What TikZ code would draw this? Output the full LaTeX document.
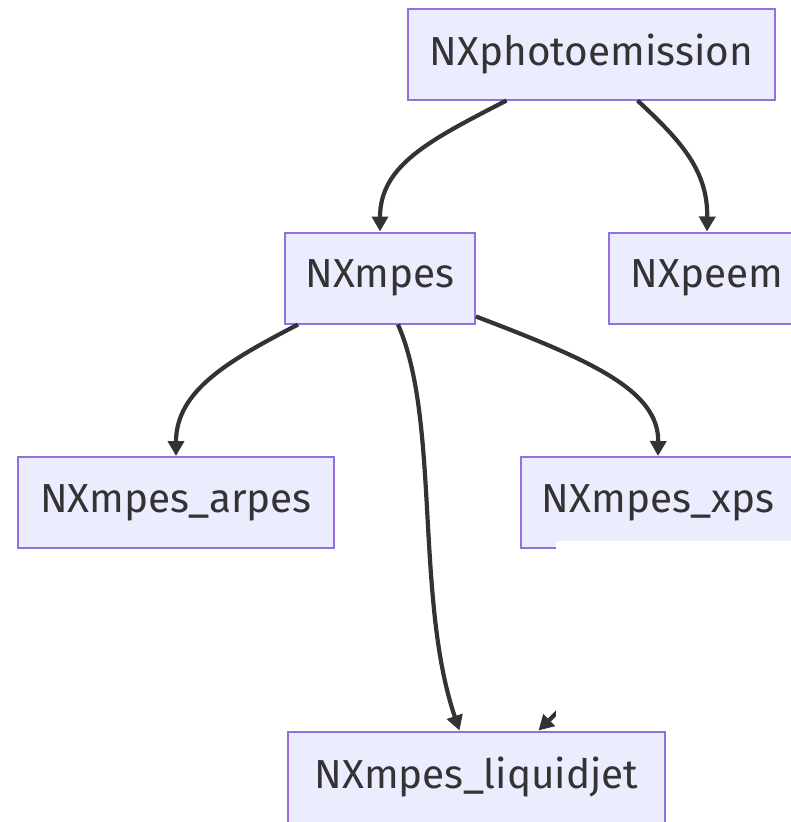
\documentclass[tikz,border=0pt]{standalone}
\usepackage{fontspec}
\setmainfont{Fira Sans}
\usetikzlibrary{arrows.meta}
\definecolor{boxfill}{HTML}{ECECFF}
\definecolor{boxline}{HTML}{9370DB}
\definecolor{ink}{HTML}{333333}
\tikzset{
  classbox/.style={draw=boxline, fill=boxfill, line width=2pt, inner sep=0pt,
    minimum height=91pt, text=ink, font=\fontsize{40.5}{44}\selectfont},
  link/.style={draw=ink, line width=4.2pt, -{Triangle[length=15pt,width=16pt]}},
}
\begin{document}
\begin{tikzpicture}[x=1pt,y=-1pt]
\useasboundingbox (0,0) rectangle (791,822);
\begin{scope}
\clip (0,0) rectangle (791,822);
% class boxes
\node[classbox, minimum width=367pt] (photo) at (591.5,54) {NXphotoemission};
\node[classbox, minimum width=190pt] (mpes) at (380,278) {NXmpes};
\node[classbox, minimum width=196pt] (peem) at (707,278) {NXpeem};
\node[classbox, minimum width=316pt] (arpes) at (176,502.5) {NXmpes\_arpes};
\node[classbox, minimum width=274pt] (xps) at (658,502.5) {NXmpes\_xps};
\node[classbox, minimum width=377pt] (jet) at (476.5,777) {NXmpes\_liquidjet};
% inheritance links
\draw[link] ([xshift=-85pt]photo.south) .. controls (430,140) and (380,165) .. (mpes.north);
\draw[link] ([xshift=46pt]photo.south) .. controls (680,140) and (708,170) .. (peem.north);
\draw[link] ([xshift=-82pt]mpes.south) .. controls (230,360) and (176,390) .. (arpes.north);
\draw[link] ([yshift=8pt]mpes.south east) .. controls (590,360) and (659,390) .. (xps.north);
\draw[link] ([xshift=18pt]mpes.south) .. controls (440,420) and (415,600) .. ([xshift=-17pt]jet.north);
\draw[link] ([xshift=-38pt]xps.south) .. controls (620,650) and (580,690) .. ([xshift=62pt]jet.north);
% blank patch over the lower right
\fill[white] (556,541) rectangle (791,730.5);
\end{scope}
\end{tikzpicture}
\end{document}
